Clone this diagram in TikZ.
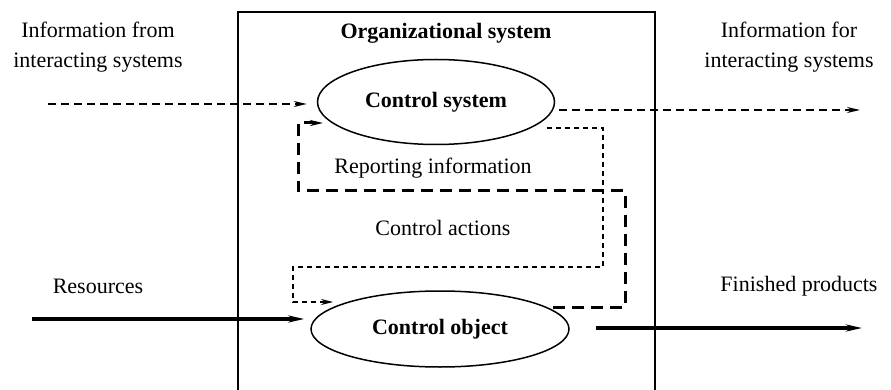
\documentclass[tikz,border=0pt]{standalone}
\usepackage{fontspec}
\setmainfont{Liberation Serif}
\usetikzlibrary{arrows.meta,shapes.geometric}

\begin{document}
\begin{tikzpicture}[x=1pt,y=-1pt,
  txt/.style={font=\fontsize{22}{30}\selectfont, inner sep=0pt, align=center},
  unit/.style={draw, ellipse, line width=1.5pt, inner sep=0pt, font=\fontsize{22}{30}\selectfont\bfseries},
  infoline/.style={line width=1.8pt, dash pattern=on 8pt off 5pt, -{Stealth[length=13pt,width=6pt]}},
  repline/.style={line width=3pt, dash pattern=on 12pt off 7pt, -{Stealth[length=13pt,width=6pt]}},
  actline/.style={line width=1.2pt, dash pattern=on 5pt off 4pt, -{Stealth[open,length=12pt,width=6pt]}},
  flowline/.style={line width=3.2pt, -{Stealth[length=16pt,width=7pt]}}]

\useasboundingbox (0,0) rectangle (891,390);

% organizational system frame
\draw[line width=1.4pt] (238,390) -- (238,12) -- (655,12) -- (655,390);
\node[txt, font=\fontsize{22}{30}\selectfont\bfseries] (orgTitle) at (446,33) {Organizational system};

\node[unit, minimum width=237, minimum height=85] (ctrlSys) at (436,102) {Control system};
\node[unit, minimum width=258, minimum height=76] (ctrlObj) at (440,329) {Control object};

\node[txt] (infoFrom) at (98,47) {Information from\\interacting systems};
\node[txt] (infoFor) at (789,47) {Information for\\interacting systems};
\node[txt] (resLbl) at (98,286) {Resources};
\node[txt] (prodLbl) at (799,286) {Finished products};
\node[txt] (repLbl) at (433,168) {Reporting information};
\node[txt] (actLbl) at (443,228) {Control actions};

\coordinate (inA) at (48,104);
\coordinate (outB) at (860,110);
\coordinate (resA) at (32,319);
\coordinate (prodB) at (862,328);

% information flows
\draw[infoline] (inA) -- (inA -| ctrlSys.west) [shorten >=10pt];
\draw[infoline] (ctrlSys.east |- outB) -- (outB) [shorten <=4pt];

% reporting loop
\coordinate (repA) at (553,307);
\coordinate (repB) at (625,191);
\coordinate (repC) at (298,123);
\coordinate (repD) at (323,123);
\draw[repline] (repA) -| (repB) -| (repC) -- (repD);

% control loop
\coordinate (actA) at (547,128);
\coordinate (actB) at (603,267);
\coordinate (actC) at (293,302);
\coordinate (actD) at (333,302);
\draw[actline] (actA) -| (actB) -| (actC) -- (actD);

% material flows
\draw[flowline] (resA) -- (resA -| ctrlObj.west) [shorten >=6pt];
\draw[flowline] (ctrlObj.east |- prodB) -- (prodB) [shorten <=26pt];

\end{tikzpicture}
\end{document}
